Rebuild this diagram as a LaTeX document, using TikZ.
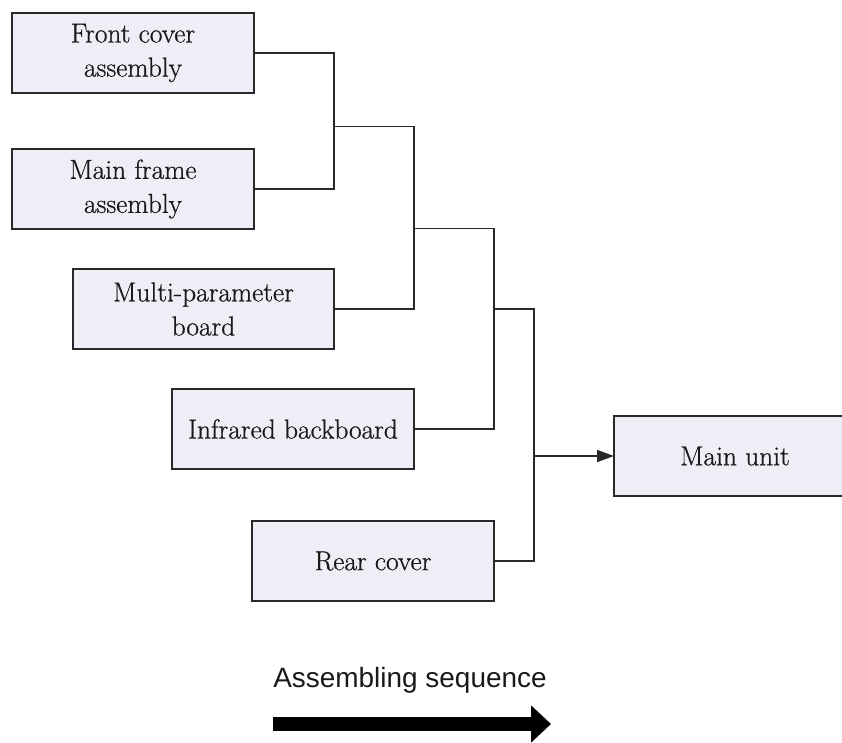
\documentclass[tikz,border=0pt]{standalone}
\usepackage{fontspec}
\setsansfont{Liberation Sans}
\newfontfamily\partfont{Latin Modern Roman}[FakeBold=0.7]
\usepackage{tikz}
\usetikzlibrary{positioning,arrows.meta,calc}
\definecolor{partfill}{RGB}{238,238,247}
\definecolor{partline}{RGB}{40,40,40}

\begin{document}
\begin{tikzpicture}[
    node distance=0.8cm,
    every node/.style={font=\partfont\fontsize{15.6}{19.4}\selectfont, text=black!90},
    part/.style={draw=partline, line width=1pt, fill=partfill, align=center, minimum width=4.84cm, minimum height=1.6cm, inner sep=2pt, outer sep=0pt},
    widepart/.style={part, minimum width=5.22cm},
    link/.style={draw=partline, line width=0.85pt},
    arr/.style={link, -{Triangle[length=0.34cm, width=0.24cm]}},
    bigarr/.style={line width=0.28cm, -{Triangle[length=0.4cm, width=0.72cm]}}
]
\useasboundingbox (-2.66,1.06) rectangle (14.18,-13.78);
\clip (-2.66,1.06) rectangle (14.18,-13.78);
\node[part] (front) at (0,0) {Front cover\\assembly};
\node[part, below=1.12cm of front] (frame) {Main frame\\assembly};
\node[widepart, below=of frame.south east, anchor=north east, xshift=1.6cm] (board) {Multi-parameter\\board};
\node[part, below=of board.south east, anchor=north east, xshift=1.6cm] (infra) {Infrared backboard};
\node[part, below=1.04cm of infra.south east, anchor=north east, xshift=1.6cm] (rear) {Rear cover};
\node[part, above right=0.5cm and 2.4cm of rear] (main) {Main unit};
% junctions of the brackets
\coordinate (j1) at ($(front.east -| board.east)!0.54!(frame.east -| board.east)$);
\coordinate (j2) at ($(j1 -| infra.east)!0.56!(board.east -| infra.east)$);
\coordinate (j3) at ($(j2 -| rear.east)!0.4!(infra.east -| rear.east)$);
\coordinate (spine) at ([xshift=0.8cm]rear.east);
\coordinate (j4) at (main.west -| spine);
\draw[link] (front.east) -| (j1) |- (frame.east);
\draw[link] (j1) -| (j2) |- (board.east);
\draw[link] (j2) -| (j3) |- (infra.east);
\draw[link] (j3) -| (j4) |- (rear.east);
\draw[arr] (j4) -- (main.west);
% sequence label and arrow
\node[font=\sffamily\fontsize{15.9}{19.4}\selectfont, inner sep=0pt, below=1.72cm of rear.south, anchor=base, xshift=0.74cm] (seq) {Assembling sequence};
\coordinate (seqstart) at ([yshift=-0.74cm]seq.base west);
\coordinate (seqend) at ([xshift=0.08cm, yshift=-0.74cm]seq.base east);
\draw[bigarr] (seqstart) -- (seqend);
\end{tikzpicture}
\end{document}
